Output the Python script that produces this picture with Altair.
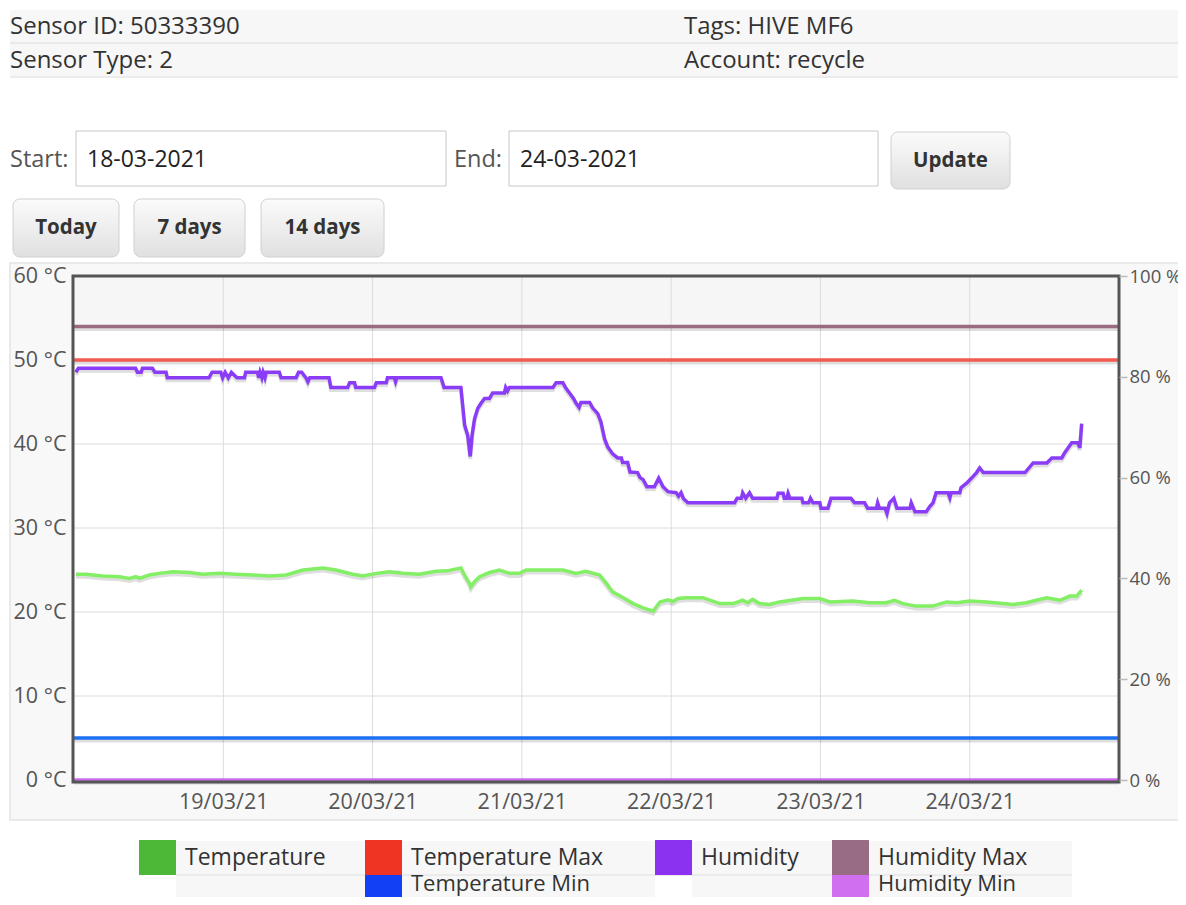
import altair as alt
import pandas as pd

# ---------------- data ----------------
temp_hours = [0.3, 1.9, 4.6, 7.3, 8.9, 9.95, 10.5, 12.1, 13.7, 15.9, 18.5, 20.7, 23.4, 26.0, 28.7,
              31.4, 34.1, 36.8, 40.0, 42.1, 44.8, 46.4, 48.6, 50.7, 52.9, 55.5, 58.2, 60.0, 62.2,
              62.8, 63.6, 63.8, 64.4, 65.2, 66.8, 68.4, 70.0, 71.6, 72.7, 78.6, 80.7, 82.3, 84.5,
              85.6, 86.6, 88.3, 89.9, 91.5, 93.1, 94.2, 95.5, 96.3, 97.1, 98.4, 101.1, 103.8,
              106.0, 107.5, 108.3, 109.1, 110.2, 111.8, 113.4, 117.2, 119.9, 121.5, 125.2, 127.9,
              130.6, 131.9, 133.3, 135.4, 138.0, 140.3, 141.9, 144.0, 146.7, 149.4, 151.0, 153.1,
              154.7, 156.4, 158.5, 160.1, 161.2, 162.0]
temp_values = [24.5, 24.5, 24.3, 24.2, 24.0, 24.2, 24.0, 24.4, 24.6, 24.8, 24.7, 24.5, 24.6, 24.5, 24.4,
               24.3, 24.4, 25.0, 25.25, 25.0, 24.5, 24.3, 24.6, 24.8, 24.6, 24.5, 24.85, 24.9, 25.25,
               24.4, 23.4, 23.0, 23.6, 24.2, 24.7, 25.0, 24.6, 24.6, 25.0, 25.0, 24.6, 24.85, 24.4,
               23.4, 22.4, 21.7, 21.0, 20.5, 20.1, 21.2, 21.45, 21.25, 21.6, 21.7, 21.7, 21.0,
               21.0, 21.4, 21.1, 21.5, 21.0, 20.9, 21.2, 21.6, 21.6, 21.2, 21.3, 21.1,
               21.1, 21.4, 21.0, 20.7, 20.7, 21.2, 21.1, 21.3, 21.2, 21.0, 20.9, 21.1,
               21.4, 21.7, 21.4, 21.9, 21.9, 22.6]

hum_hours = [0.3, 0.7, 9.9, 10.2, 10.8, 11.0, 12.6, 13.0, 14.8, 15.0, 21.7, 22.2, 23.6, 23.9, 24.3,
             24.8, 25.3, 26.2, 27.4, 27.6, 29.5, 29.7, 29.9, 30.2, 30.4, 30.7, 30.9, 33.0, 33.3,
             35.7, 36.1, 36.6, 37.3, 37.6, 37.9, 41.0, 41.3, 44.0, 44.3, 45.1, 45.3, 48.3, 48.6,
             50.2, 50.4, 51.5, 51.7, 51.9, 59.0, 59.5, 62.2, 62.8, 63.3, 63.7, 64.0, 64.4, 64.9,
             65.4, 66.0, 66.8, 67.3, 69.2, 69.4, 69.7, 70.0, 77.0, 77.5, 78.6, 79.1, 79.9, 80.3,
             80.7, 81.2, 81.5, 82.9, 83.4, 84.2, 84.7, 85.3, 85.8, 86.6, 87.4, 88.0, 88.2, 89.0,
             89.4, 90.6, 91.0, 91.5, 92.1, 93.3, 94.0, 94.7, 95.5, 96.8, 97.2, 97.6, 98.0, 98.7,
             106.2, 106.6, 107.3, 107.5, 108.0, 108.6, 109.1, 113.0, 113.2, 114.0, 114.2, 114.6,
             114.8, 115.1, 117.0, 117.2, 118.1, 118.4, 118.8, 119.9, 120.1, 121.2, 121.7, 124.9,
             125.5, 127.1, 127.6, 129.0, 129.2, 129.5, 130.4, 130.7, 131.1, 131.8, 132.3, 134.4,
             134.6, 135.2, 137.0, 137.6, 138.1, 138.6, 140.5, 140.8, 141.0, 142.4, 142.6, 143.5,
             144.3, 145.1, 145.6, 146.2, 152.9, 154.2, 156.4, 157.2, 158.8, 159.3, 160.4, 161.4,
             161.7, 162.0]
hum_values = [80.9, 81.7, 81.7, 80.9, 80.9, 81.7, 81.7, 80.9, 80.9, 79.8, 79.8, 80.9, 80.9, 79.8, 80.9,
              79.8, 80.9, 79.8, 79.8, 80.9, 80.9, 79.8, 80.9, 79.8, 80.9, 79.8, 80.9, 80.9, 79.8,
              79.8, 80.9, 80.9, 79.8, 79.0, 79.8, 79.8, 77.9, 77.9, 78.8, 78.8, 77.9, 77.9, 78.8,
              78.8, 79.8, 79.8, 79.0, 79.8, 79.8, 77.9, 77.9, 70.4, 68.4, 64.2, 68.4, 71.7, 73.7,
              74.7, 75.7, 75.7, 76.8, 76.8, 77.9, 77.2, 77.9, 77.9, 78.8, 78.8, 77.7, 76.4, 75.7,
              74.8, 73.9, 74.9, 74.9, 73.8, 72.7, 71.1, 67.7, 66.1, 64.7, 63.9, 63.9, 63.0, 63.0,
              61.1, 61.0, 60.0, 59.6, 58.2, 58.2, 59.9, 58.2, 57.2, 57.0, 56.3, 57.0, 55.8, 55.0,
              55.0, 55.9, 55.9, 57.0, 55.9, 57.0, 55.9, 55.9, 56.9, 56.9, 55.9, 55.9,
              56.9, 55.9, 55.9, 55.0, 55.0, 55.9, 55.0, 55.0, 53.9, 53.9, 55.9, 55.9,
              55.0, 55.0, 53.9, 53.9, 55.0, 53.9, 53.9, 52.9, 55.0, 55.9, 53.9, 53.9,
              55.0, 53.2, 53.2, 54.3, 55.0, 57.0, 57.0, 56.0, 57.0, 57.0, 58.0, 58.9,
              59.9, 61.0, 61.9, 61.0, 61.0, 62.9, 62.9, 63.9, 63.9, 65.0, 66.9, 66.9,
              65.9, 70.7]

temp_limit_values = [50, 5]      # Temperature Max, Temperature Min (°C)
hum_limit_values = [90, 0]       # Humidity Max, Humidity Min (%)
temp_ticks = [0, 10, 20, 30, 40, 50, 60]
hum_ticks = [0, 20, 40, 60, 80, 100]
grid_days = [19, 20, 21, 22, 23, 24]
legend_names = ["Temperature", "Temperature Max", "Temperature Min",
                "Humidity", "Humidity Max", "Humidity Min"]
legend_colors = ["#4db838", "#f03424", "#1240f5", "#8a32f0", "#986c82", "#d070f0"]
header_left = ["Sensor ID: 50333390", "Sensor Type: 2"]
header_right = ["Tags: HIVE MF6", "Account: recycle"]
start_date = "18-03-2021"
end_date = "24-03-2021"
buttons = ["Today", "7 days", "14 days"]

# ---------------- build ----------------
FONT = "Open Sans"
W, H = 1045, 504
X0, Y0 = 74, 276          # page position of plot origin
SVG_W, SVG_H = 1170, 889

start = pd.Timestamp("2021-03-18T00:00:00")


def iso(hours):
    return [(start + pd.Timedelta(hours=h)).strftime("%Y-%m-%dT%H:%M:%SZ") for h in hours]


temp_df = pd.DataFrame({"t": iso(temp_hours), "v": temp_values})
hum_df = pd.DataFrame({"t": iso(hum_hours), "h": hum_values})
days_df = pd.DataFrame({"t": [f"2021-03-{d:02d}T00:00:00Z" for d in grid_days]})
tgrid_df = pd.DataFrame({"v": [v for v in temp_ticks if 0 < v < 60]})
tlim_df = pd.DataFrame({"v": temp_limit_values, "name": legend_names[1:3]})
hlim_df = pd.DataFrame({"h": hum_limit_values, "name": legend_names[4:6]})
band_df = pd.DataFrame({"b": [hum_limit_values[0]], "b2": [100]})
one = pd.DataFrame({"k": [0]})

AX_FS = 21.5
xenc = alt.X(
    "t:T",
    scale=alt.Scale(type="utc", domain=[alt.DateTime(year=2021, month=3, date=18, utc=True),
                                        alt.DateTime(year=2021, month=3, date=25, utc=True)]),
    axis=alt.Axis(values=[alt.DateTime(year=2021, month=3, date=d, utc=True) for d in grid_days],
                  format="%d/%m/%y", grid=False, domain=False, ticks=False,
                  labelFontSize=AX_FS, labelColor="#555", labelFont=FONT, labelPadding=11,
                  labelBaseline="top", title=None, zindex=1),
)
yT = alt.Y("v:Q", scale=alt.Scale(domain=[0, 60]),
           axis=alt.Axis(orient="left", values=temp_ticks, labelExpr="datum.value + ' °C'",
                         grid=False, domain=False, ticks=False, labelFontSize=AX_FS,
                         labelColor="#555", labelFont=FONT, labelPadding=8, title=None, zindex=1))
yH = alt.Y("h:Q", scale=alt.Scale(domain=[0, 100]),
           axis=alt.Axis(orient="right", values=hum_ticks, labelExpr="datum.value + ' %'",
                         grid=False, domain=False, ticks=True, tickSize=8, tickColor="#bbb",
                         tickWidth=1.5, labelFontSize=18.5, labelColor="#555", labelFont=FONT,
                         labelPadding=2, title=None, zindex=1))


def rect(x1, y1, x2, y2, **kw):
    return alt.Chart(one).mark_rect(**kw).encode(
        x=alt.value(x1 - X0), x2=alt.value(x2 - X0),
        y=alt.value(y1 - Y0), y2=alt.value(y2 - Y0))


def txt(s, x, y, size=21, color="#333", weight="normal", align="left"):
    return alt.Chart(one).mark_text(text=s, font=FONT, fontSize=size, color=color,
                                    fontWeight=weight, align=align, baseline="middle").encode(
        x=alt.value(x - X0), y=alt.value(y - Y0))


btn_fill = {"gradient": "linear", "x1": 0, "x2": 0, "y1": 0, "y2": 1,
            "stops": [{"offset": 0, "color": "#fbfbfb"}, {"offset": 1, "color": "#e0e0e0"}]}

deco = []
# header table
deco += [rect(10, 10, 1190, 42, fill="#f7f7f7"), rect(10, 42, 1190, 44, fill="#e9e9e9"),
         rect(10, 44, 1190, 76, fill="#f7f7f7"), rect(10, 76, 1190, 78, fill="#ececec")]
deco += [txt(header_left[0], 10, 27, 24), txt(header_right[0], 684, 27, 24),
         txt(header_left[1], 10, 61, 24), txt(header_right[1], 684, 61, 24)]
# date inputs
deco += [txt("Start:", 10, 160, 23.5, "#555"),
         rect(76, 131, 446, 186, fill="white", stroke="#c8c8c8", strokeWidth=1),
         txt(start_date, 87, 160, 23, "#222"),
         txt("End:", 454, 160, 23.5, "#555"),
         rect(509, 131, 878, 186, fill="white", stroke="#c8c8c8", strokeWidth=1),
         txt(end_date, 520, 160, 23, "#222")]
# buttons
btn_boxes = [(13, 199, 119, 257), (134, 199, 245, 257), (261, 199, 384, 257)]
deco += [rect(891, 132, 1010, 189, fill=btn_fill, stroke="#d0d0d0", cornerRadius=7),
         txt("Update", 950.5, 161, 20.5, "#333", "bold", "center")]
for label, (a, b, c, d) in zip(buttons, btn_boxes):
    deco += [rect(a, b, c, d, fill=btn_fill, stroke="#d0d0d0", cornerRadius=7),
             txt(label, (a + c) / 2, (b + d) / 2, 20.5, "#333", "bold", "center")]
# chart container and plot background
deco += [rect(10, 263, 1190, 820, fill="#f8f8f8", stroke="#e4e4e4", strokeWidth=1.5),
         rect(X0, Y0, X0 + W, Y0 + H, fill="white")]
# legend table
deco += [rect(176, 841, 1072, 874, fill="#f7f7f7"), rect(176, 874, 1072, 876, fill="#ebebeb"),
         rect(176, 876, 1072, 910, fill="#f7f7f7"), rect(655, 876, 692, 910, fill="white")]
legend_cols = [139, 365, 365, 655, 832, 832]
legend_rows = [0, 0, 1, 0, 0, 1]
for name, col, cx, r in zip(legend_names, legend_colors, legend_cols, legend_rows):
    y1 = 840 + 35 * r
    deco += [rect(cx, y1, cx + 37, y1 + 35, fill=col),
             txt(name, cx + 46, 858 if r == 0 else 884, 23 if r == 0 else 22, "#333")]

deco_layer = alt.layer(*deco)

# humidity max-zone band
band_layer = alt.Chart(band_df).mark_rect(fill="#f6f6f6").encode(
    x=alt.value(0), x2=alt.value(W),
    y=alt.Y("b:Q", scale=alt.Scale(domain=[0, 100]), axis=None), y2="b2:Q")

SH = "rgba(0,0,0,0.13)"
temp_layer = alt.layer(
    alt.Chart(days_df).mark_rule(color="#dcdcdc", strokeWidth=1).encode(x=xenc),
    alt.Chart(tgrid_df).mark_rule(color="#dcdcdc", strokeWidth=1).encode(y=yT),
    alt.Chart(tlim_df).transform_calculate(v="datum.v - 0.3").mark_rule(color=SH, strokeWidth=4).encode(y=yT),
    alt.Chart(tlim_df).mark_rule(strokeWidth=3.5).encode(
        y=yT, color=alt.Color("name:N", scale=alt.Scale(domain=legend_names[1:3],
                                                        range=["#f25a52", "#1c70f2"]), legend=None)),
    alt.Chart(temp_df).transform_calculate(v="datum.v - 0.3").mark_line(color=SH, strokeWidth=4).encode(x=xenc, y=yT),
    alt.Chart(temp_df).mark_line(color="#82ef64", strokeWidth=3.5).encode(x=xenc, y=yT),
)

hum_layer = alt.layer(
    alt.Chart(hlim_df).transform_calculate(h="datum.h - 0.5").mark_rule(color=SH, strokeWidth=4).encode(y=yH),
    alt.Chart(hlim_df).mark_rule(strokeWidth=3.5).encode(
        y=yH, color=alt.Color("name:N", scale=alt.Scale(domain=legend_names[4:6],
                                                        range=["#9a6b80", "#cd6cec"]), legend=None)),
    alt.Chart(hum_df).transform_calculate(h="datum.h - 0.5").mark_line(color=SH, strokeWidth=4).encode(x=xenc, y=yH),
    alt.Chart(hum_df).mark_line(color="#8a3cf6", strokeWidth=3.5).encode(x=xenc, y=yH),
)

frame = rect(X0 - 1, Y0, X0 + W, Y0 + H + 2, fill="transparent", stroke="#555", strokeWidth=3)

chart = alt.layer(deco_layer, band_layer, temp_layer, hum_layer, frame).resolve_scale(
    y="independent", color="independent"
).properties(
    width=W, height=H,
    padding={"left": X0 - 8, "top": Y0 - 8,
             "right": SVG_W - (X0 - 8) - W, "bottom": SVG_H - (Y0 - 8) - H},
    autosize=alt.AutoSizeParams(type="none"),
    background="white",
).configure_view(stroke=None)

chart.save("out.html", embed_options={"renderer": "svg", "actions": False})
